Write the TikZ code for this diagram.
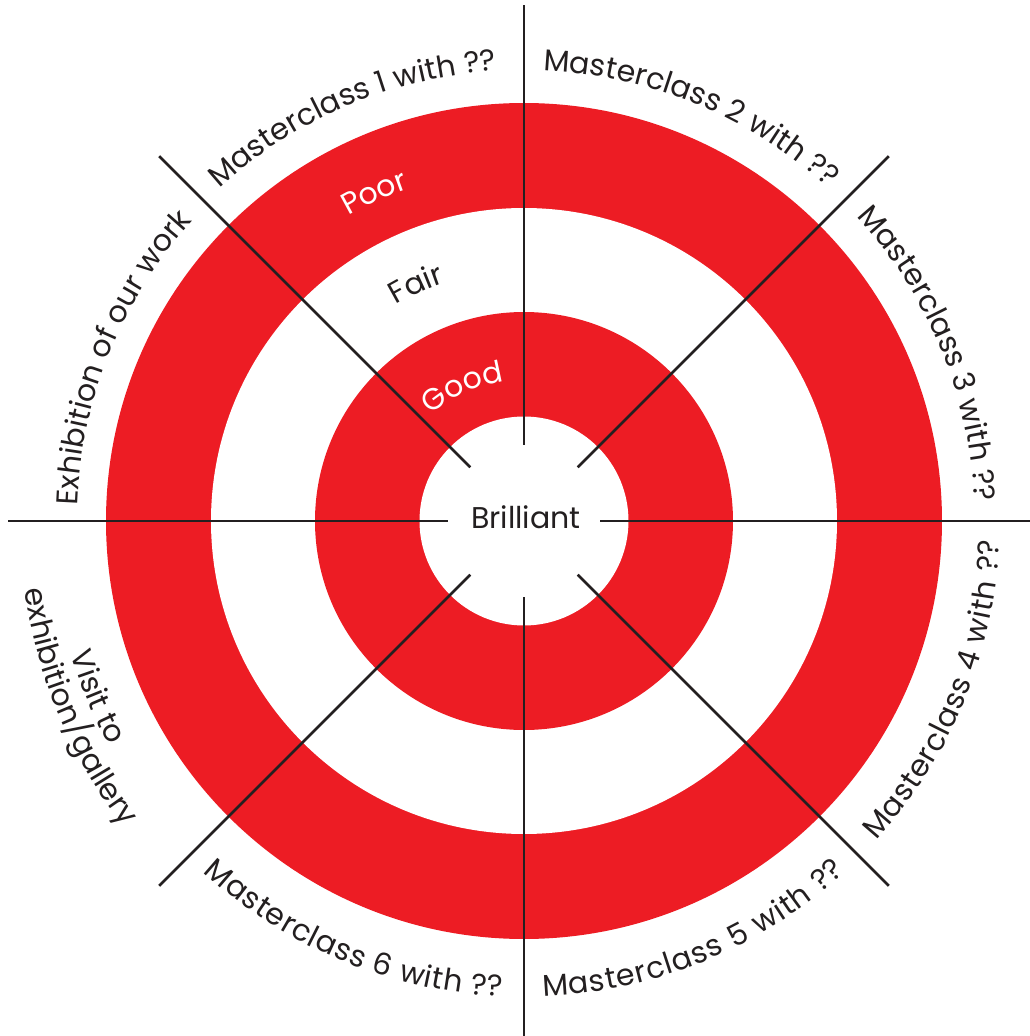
\documentclass[tikz,border=0pt]{standalone}
\usepackage{fontspec}
\setmainfont{Poppins}
\usetikzlibrary{decorations.text}
\definecolor{tred}{HTML}{ED1C24}
\definecolor{tink}{HTML}{231F20}
\newcommand\lblfont{\fontsize{30}{36}\selectfont}
\tikzset{
  spoke/.style={draw=tink, line width=2.6pt},
}
\newcommand\lowerlabel[5]{%
  \path[decorate, decoration={text along path, text={|\lblfont|#4}, text color=#5, text align={fit to path}}]
    (#1-#2:#3) arc[start angle=#1-#2, end angle=#1+#2, radius=#3];}
\newcommand\uppercentered[5]{%
  \path[decorate, decoration={text along path, text={|\lblfont|#4}, text color=#5, text align=center}]
    (#1+#2:#3) arc[start angle=#1+#2, end angle=#1-#2, radius=#3];}
\newcommand\lowercentered[5]{%
  \path[decorate, decoration={text along path, text={|\lblfont|#4}, text color=#5, text align=center}]
    (#1-#2:#3) arc[start angle=#1-#2, end angle=#1+#2, radius=#3];}
\begin{document}
\begin{tikzpicture}
\useasboundingbox (-524pt,-515pt) rectangle (505pt,521pt);
\fill[white] (-524pt,-515pt) rectangle (505pt,521pt);
% rings
\fill[tred] (0,0) circle[radius=418pt];
\fill[white] (0,0) circle[radius=313pt];
\fill[tred] (0,0) circle[radius=209pt];
\fill[white] (0,0) circle[radius=104.5pt];
% spokes
\foreach \a in {0,45,...,315}
  \draw[spoke] (\a:76pt) -- (\a:516pt);
% centre
\node[font=\lblfont, text=tink, anchor=base, inner sep=0pt] (brilliant) at (2pt,-7pt) {Brilliant};
% ring labels
\uppercentered{114.5}{30}{352pt}{Poor}{white}
\uppercentered{114.5}{35}{251pt}{Fair}{tink}
\uppercentered{114.5}{40}{141pt}{Good}{white}
% outer labels, upper half
\uppercentered{113}{30}{451pt}{Masterclass 1 with ??}{tink}
\uppercentered{67.6}{30}{451pt}{Masterclass 2 with ??}{tink}
\uppercentered{22.5}{30}{451pt}{Masterclass 3 with ??}{tink}
\uppercentered{157.9}{30}{447pt}{Exhibition of our work}{tink}
% outer labels, lower half
\lowerlabel{-22.3}{19.9}{476pt}{Masterclass 4 with ??}{tink}
\lowerlabel{-67.6}{20.1}{476pt}{Masterclass 5 with ??}{tink}
\lowerlabel{-112.5}{19.9}{476pt}{Masterclass 6 with ??}{tink}
\lowercentered{-157.6}{25}{472pt}{Visit to}{tink}
\lowercentered{-157.4}{25}{504pt}{exhibition/gallery}{tink}
\end{tikzpicture}
\end{document}
